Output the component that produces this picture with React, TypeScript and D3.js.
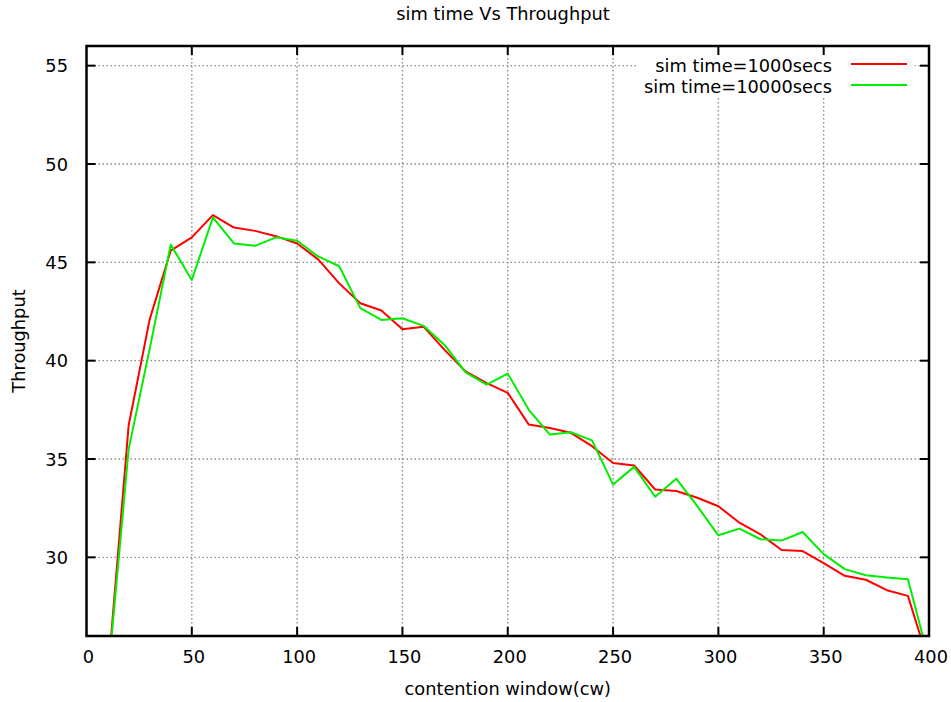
import React from "react";
import * as d3 from "d3";

const cwValues = [10,20,30,40,50,60,70,80,90,100,110,120,130,140,150,160,170,180,190,200,210,220,230,240,250,260,270,280,290,300,310,320,330,340,350,360,370,380,390,400];
const sim1000 = [23.8,36.7,42.1,45.6,46.27,47.4,46.77,46.6,46.33,45.96,45.15,43.93,42.92,42.55,41.6,41.73,40.55,39.45,38.86,38.36,36.75,36.58,36.33,35.65,34.8,34.67,33.45,33.37,33.03,32.6,31.76,31.17,30.37,30.32,29.7,29.06,28.86,28.33,28.04,24.6];
const sim10000 = [23.7,35.5,40.6,45.9,44.1,47.28,45.96,45.84,46.27,46.1,45.3,44.8,42.67,42.07,42.16,41.77,40.8,39.4,38.78,39.34,37.5,36.24,36.36,35.95,33.7,34.6,33.08,34.0,32.6,31.12,31.46,30.92,30.85,31.29,30.16,29.4,29.09,28.98,28.89,24.8];
const xTicks = [0,50,100,150,200,250,300,350,400];
const yTicks = [30,35,40,45,50,55];
const seriesNames = ["sim time=1000secs", "sim time=10000secs"];
const seriesColors = ["#ff0000", "#00ee00"];
const title = "sim time Vs Throughput";
const xLabel = "contention window(cw)";
const yLabel = "Throughput";

export default function App() {
  const W = 951, H = 702;
  const left = 86.5, right = 929, top = 46, bottom = 636;
  const x = d3.scaleLinear().domain([0, 400]).range([left, right]);
  const y = d3.scaleLinear().domain([26, 56]).range([bottom, top]);
  const font = "'DejaVu Sans', sans-serif";
  const fs = 17.8;
  const line = d3.line<number>().x((_, i) => x(cwValues[i])).y((d) => y(d));
  const series = [sim1000, sim10000];
  return (
    <svg width={W} height={H} style={{ position: "absolute", left: 0, top: 0, background: "#fff" }} fontFamily={font}>
      <defs>
        <clipPath id="plotclip">
          <rect x={left} y={top} width={right - left} height={bottom - top} />
        </clipPath>
      </defs>
      <rect x={0} y={0} width={W} height={H} fill="#fff" />
      {/* grid */}
      {xTicks.filter((t) => t > 0 && t < 400).map((t) => (
        <line key={"gx" + t} x1={x(t)} x2={x(t)} y1={top} y2={bottom} stroke="#8c8c8c" strokeWidth={1.4} strokeDasharray="1.5,2.5" />
      ))}
      {yTicks.map((t) => (
        <line key={"gy" + t} x1={left} x2={right} y1={y(t)} y2={y(t)} stroke="#8c8c8c" strokeWidth={1.4} strokeDasharray="1.5,2.5" />
      ))}
      {/* legend background */}
      <rect x={637} y={54} width={278} height={43} fill="#fff" />
      {/* lines */}
      <g clipPath="url(#plotclip)">
        {series.map((s, i) => (
          <path key={i} d={line(s) || ""} fill="none" stroke={seriesColors[i]} strokeWidth={2} strokeLinejoin="round" />
        ))}
      </g>
      {/* ticks */}
      {xTicks.filter((t) => t > 0 && t < 400).map((t) => (
        <g key={"tx" + t}>
          <line x1={x(t)} x2={x(t)} y1={bottom} y2={bottom - 9} stroke="#000" strokeWidth={2} />
          <line x1={x(t)} x2={x(t)} y1={top} y2={top + 9} stroke="#000" strokeWidth={2} />
        </g>
      ))}
      {yTicks.map((t) => (
        <g key={"ty" + t}>
          <line x1={left} x2={left + 9} y1={y(t)} y2={y(t)} stroke="#000" strokeWidth={2} />
          <line x1={right} x2={right - 9} y1={y(t)} y2={y(t)} stroke="#000" strokeWidth={2} />
        </g>
      ))}
      {/* frame */}
      <rect x={left} y={top} width={right - left} height={bottom - top} fill="none" stroke="#000" strokeWidth={2.5} />
      {/* tick labels */}
      {xTicks.map((t) => (
        <text key={"lx" + t} x={x(t) + 2} y={663} textAnchor="middle" fontSize={fs} fill="#000">{t}</text>
      ))}
      {yTicks.map((t) => (
        <text key={"ly" + t} x={68} y={y(t)} textAnchor="end" dominantBaseline="central" fontSize={fs} fill="#000">{t}</text>
      ))}
      {/* labels */}
      <text x={503} y={20} textAnchor="middle" fontSize={fs} fill="#000">{title}</text>
      <text x={(left + right) / 2} y={695} textAnchor="middle" fontSize={fs} fill="#000">{xLabel}</text>
      <text transform={`translate(25,${(top + bottom) / 2}) rotate(-90)`} textAnchor="middle" fontSize={fs} fill="#000">{yLabel}</text>
      {/* legend */}
      {seriesNames.map((n, i) => (
        <g key={"lg" + i}>
          <text x={832} y={72 + i * 21} textAnchor="end" fontSize={fs} fill="#000">{n}</text>
          <line x1={851} x2={907} y1={64 + i * 21} y2={64 + i * 21} stroke={seriesColors[i]} strokeWidth={2} />
        </g>
      ))}
    </svg>
  );
}
